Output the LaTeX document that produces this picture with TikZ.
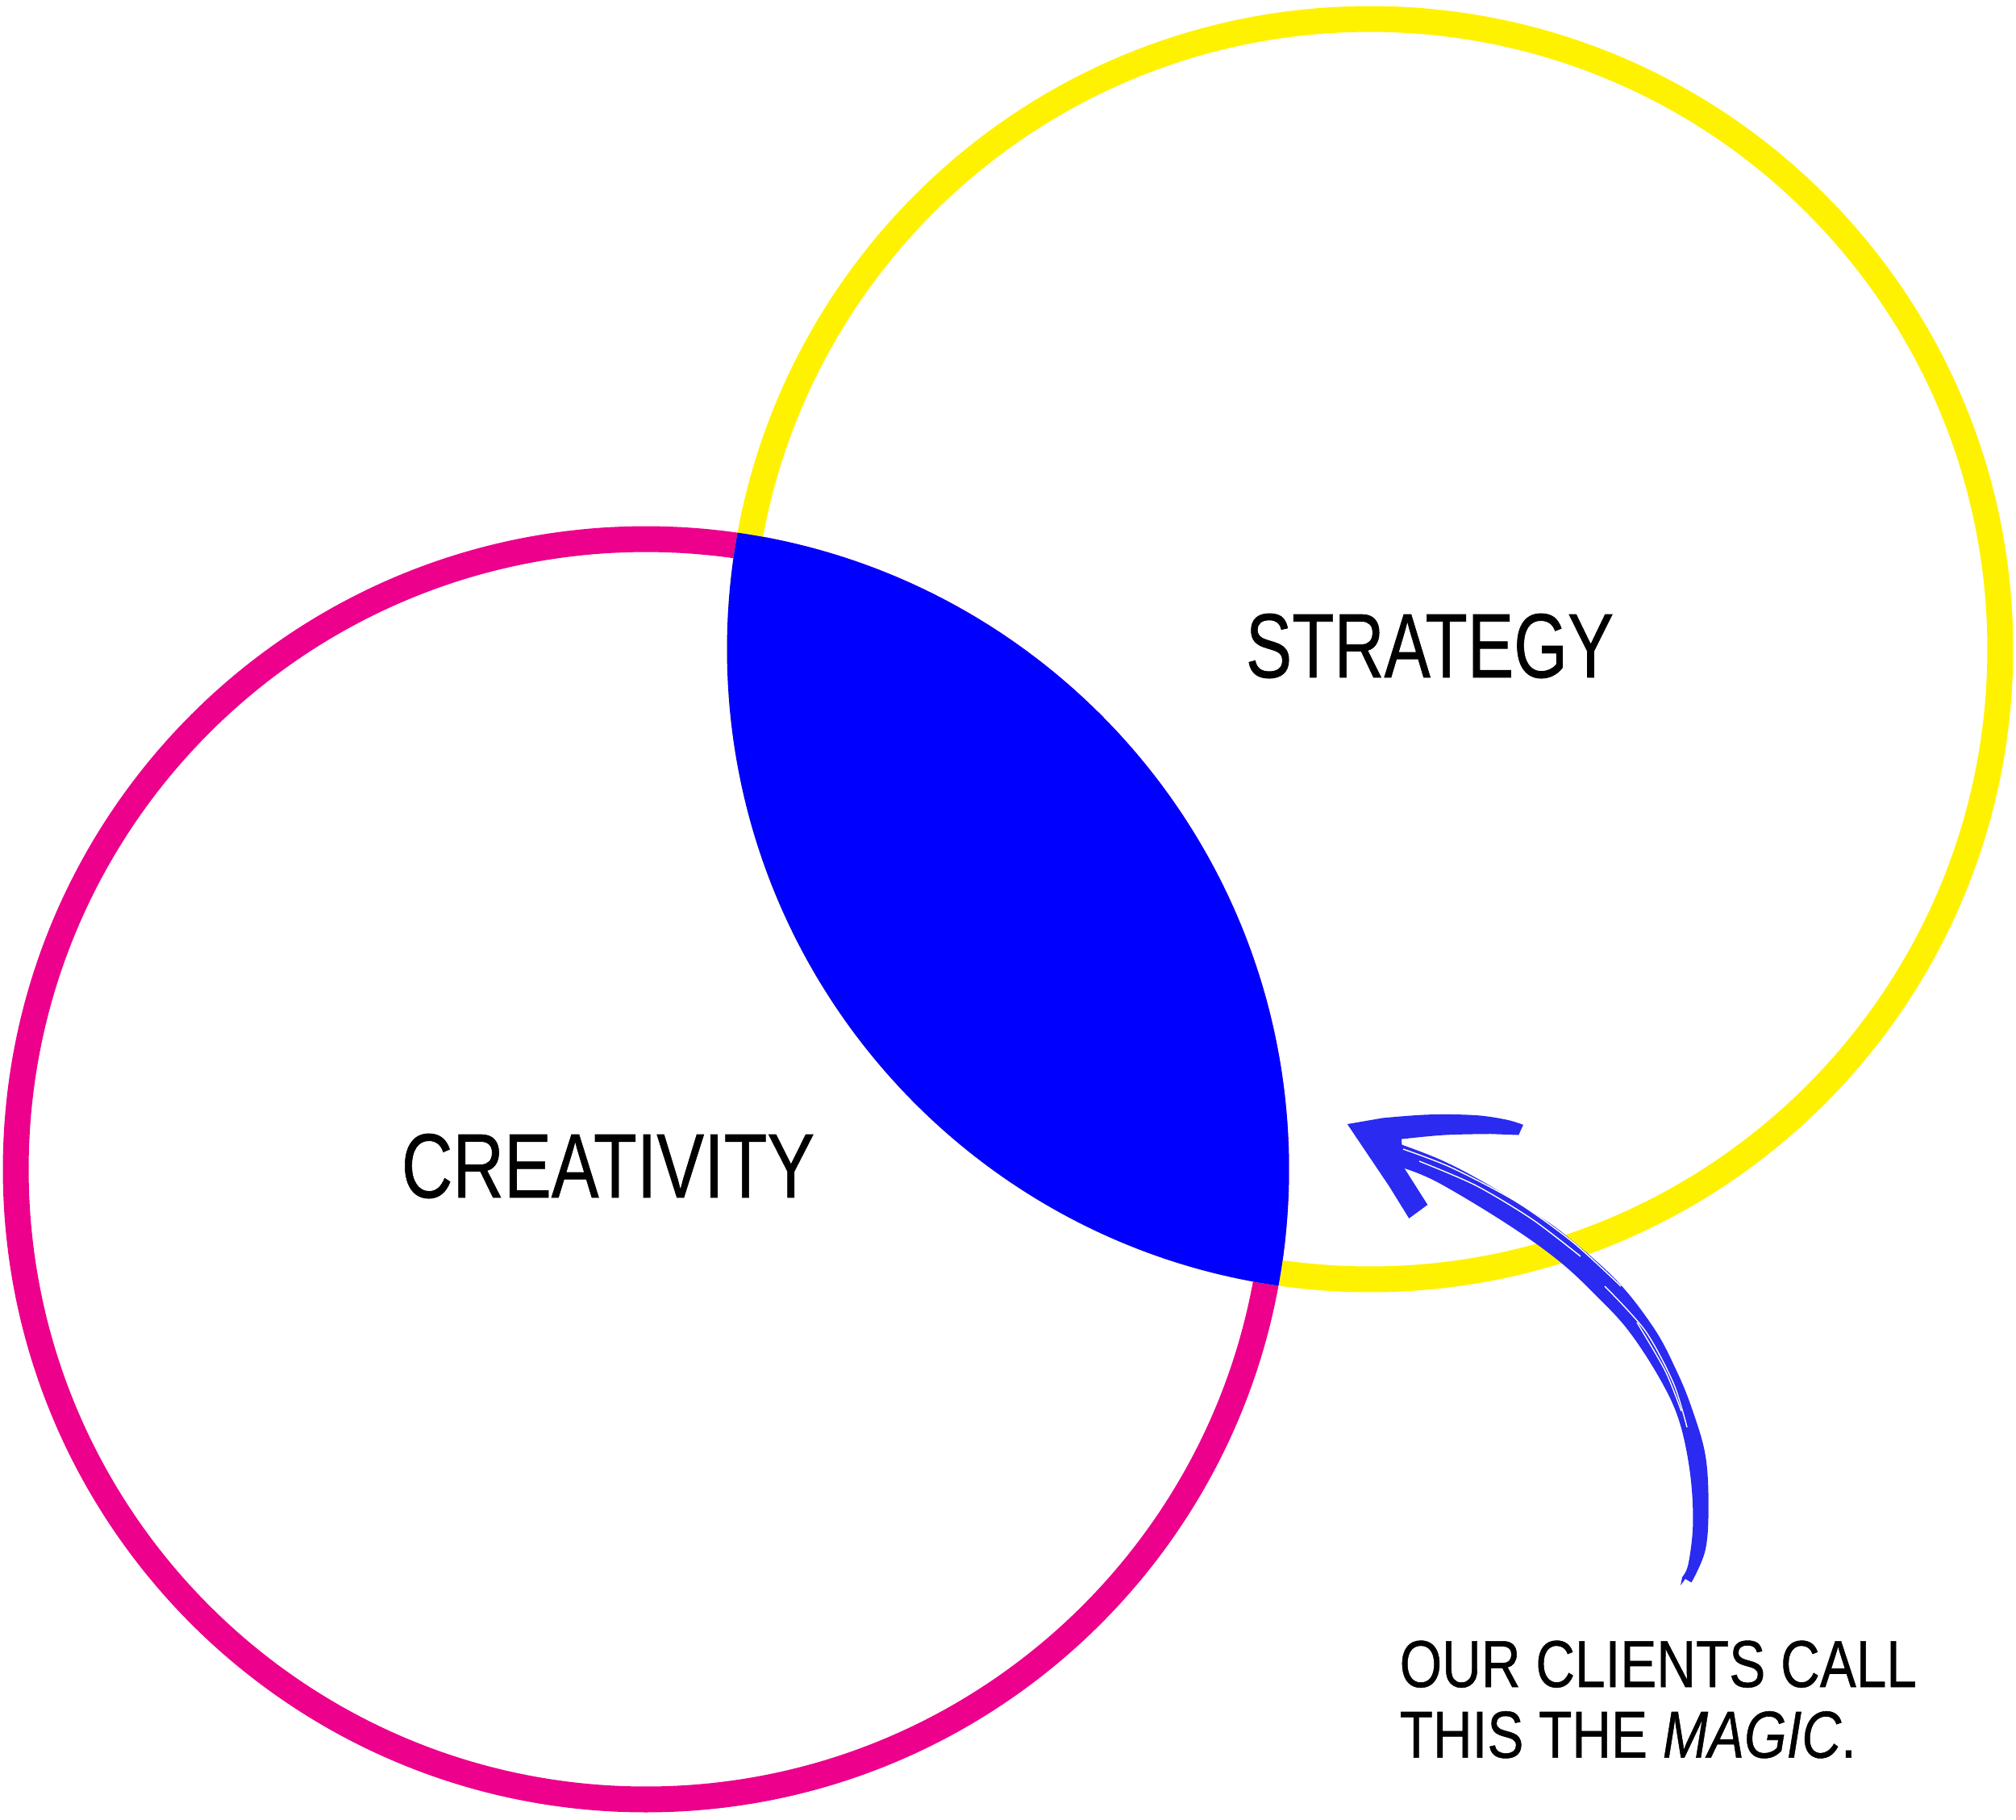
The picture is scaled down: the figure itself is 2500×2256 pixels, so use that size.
\documentclass[tikz,border=0pt]{standalone}
\usepackage{fontspec}
\setmainfont{Liberation Sans}
\newfontfamily\lblfont[FakeBold=0.7]{Liberation Sans}
\definecolor{pinkc}{RGB}{236,0,140}
\definecolor{yellowc}{RGB}{255,242,0}
\definecolor{bluec}{RGB}{0,0,255}
\definecolor{arrowc}{RGB}{42,42,240}
\begin{document}
\begin{tikzpicture}[x=0.01cm,y=-0.01cm,
  ring/.style={line width=0.32cm},
  lbl/.style={inner sep=0pt, anchor=base, font=\lblfont\fontsize{32.2}{38}\selectfont},
  captxt/.style={inner sep=0pt, anchor=base west, font=\lblfont\fontsize{23.4}{28}\selectfont},
  streak/.style={white, line width=0.4pt}]
\useasboundingbox (0,0) rectangle (2500,2256);
\fill[white] (0,0) rectangle (2500,2256);
\coordinate (cc) at (801,1450);
\coordinate (sc) at (1699,805);
\draw[ring, pinkc] (cc) circle[radius=7.81cm];
\draw[ring, yellowc] (sc) circle[radius=7.81cm];
\begin{scope}
  \clip (cc) circle[radius=7.97cm];
  \fill[bluec] (sc) circle[radius=7.97cm];
\end{scope}
\node[lbl] (strategy) at (1773,840) {\scalebox{0.758}[1]{STRATEGY}};
\node[lbl] (creativity) at (754,1485) {\scalebox{0.778}[1]{CREATIVITY}};
\node[captxt] (cap1) at (1735,2092) {\scalebox{0.82}[1]{OUR CLIENTS CALL}};
\node[captxt] (cap2) at (1735,2179.6) {\scalebox{0.82}[1]{THIS THE {\itshape MAGIC}.}};
% brush arrow
\fill[arrowc] plot[smooth, tension=0.6] coordinates {(1718.6,1412.6) (1783.7,1437.0) (1841.1,1466.6) (1906.2,1506.7) (1944.4,1534.1) (2005.7,1588.9) (2051.6,1648.0) (2078.4,1698.6) (2097.5,1745.1) (2114.7,1804.1) (2118.6,1867.4) (2114.7,1922.3) (2097.5,1962.4)}
  -- (2090,1958) -- (2084,1966) -- plot[smooth, tension=0.6] coordinates {(2086.1,1955.6) (2093.7,1939.2) (2099.4,1888.5) (2095.6,1825.2) (2082.2,1761.9) (2059.2,1711.3) (2021.0,1652.2) (1982.7,1610.0) (1933.0,1563.6) (1867.9,1517.2) (1783.7,1466.6) (1741.6,1448.9)} -- cycle;
\fill[arrowc] (1670.8,1394.0) -- plot[smooth, tension=0.6] coordinates {(1714.8,1386.4) (1772.2,1382.2) (1829.6,1383.0) (1867.9,1388.5) (1888.9,1394.9)}
  -- (1883.2,1407.5) -- plot[smooth, tension=0.6] coordinates {(1848.8,1406.2) (1791.4,1407.5) (1737.8,1412.6)}
  -- (1741.6,1448.9) -- (1770.3,1494.0) -- (1747.3,1510.9) -- (1722.5,1470.8) -- cycle;
\draw[streak] plot[smooth] coordinates {(1740,1425) (1800,1448) (1880,1490) (1950,1540) (2010,1595)};
\draw[streak] plot[smooth] coordinates {(1760,1440) (1830,1470) (1900,1512) (1960,1558)};
\draw[streak] plot[smooth] coordinates {(1990,1595) (2040,1650) (2075,1715) (2092,1770)};
\draw[streak] plot[smooth] coordinates {(2030,1640) (2065,1700) (2085,1750)};
\end{tikzpicture}
\end{document}
